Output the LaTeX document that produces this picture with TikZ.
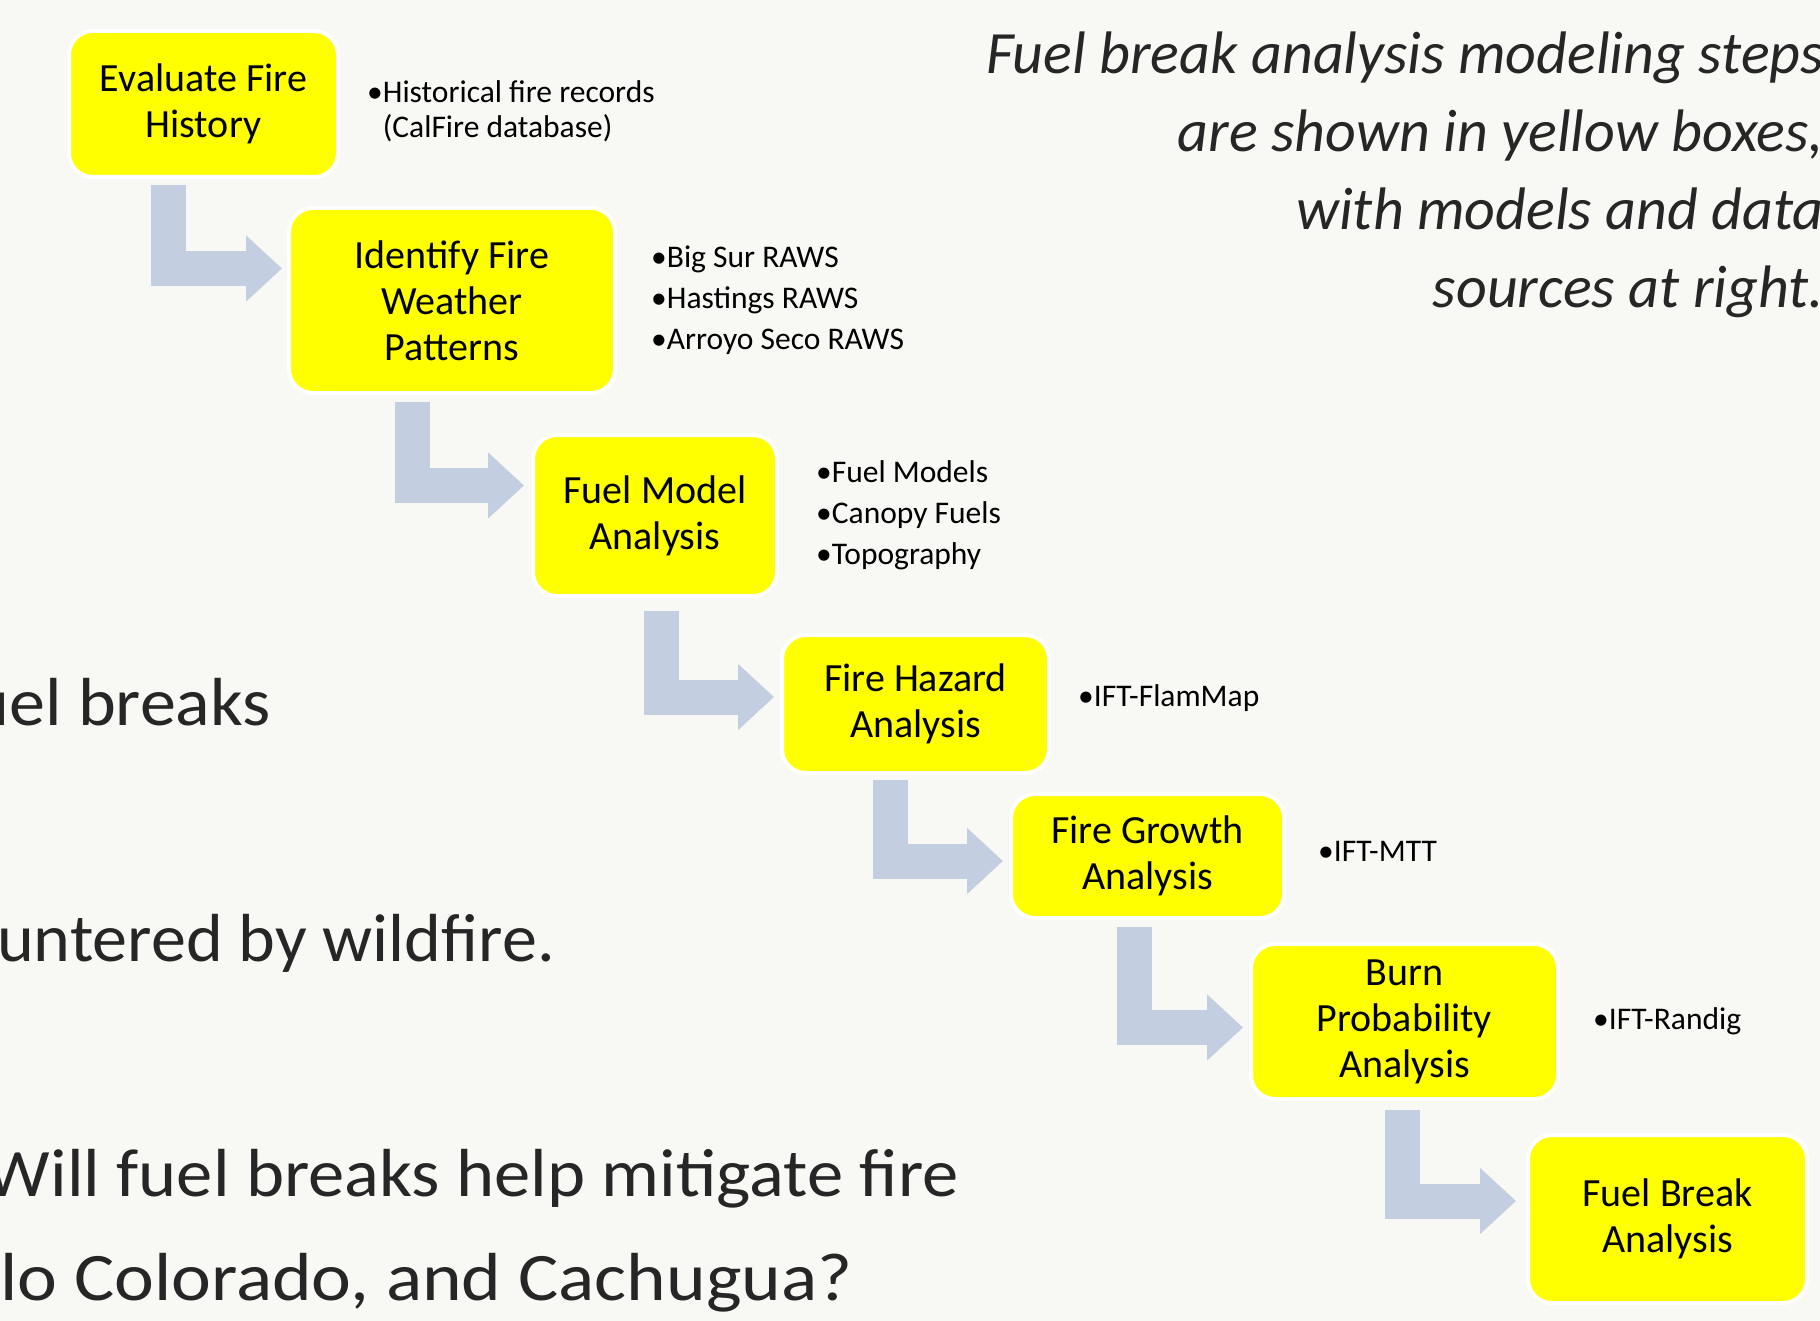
\documentclass[tikz,border=0pt]{standalone}
\usepackage{fontspec}
\setmainfont{Carlito}
\usetikzlibrary{arrows.meta, positioning}
\definecolor{stepyellow}{RGB}{255,255,0}
\definecolor{flowblue}{RGB}{196,206,225}
\definecolor{slidebg}{RGB}{248,248,244}

\begin{document}
\begin{tikzpicture}[
        x=1pt, y=-1pt,
        stepbox/.style={fill=stepyellow, draw=white, line width=4pt,
            rounded corners=24pt, align=center, inner sep=0pt,
            font=\fontsize{40}{46}\selectfont},
        data/.style={align=left, inner sep=0pt,
            font=\fontsize{31.5}{35}\selectfont},
        flow/.style={draw=flowblue, line width=35pt,
            -{Triangle[width=64pt,length=36pt]}},
        slide/.style={inner sep=0pt, text=black!85,
            font=\fontsize{68}{104}\selectfont},
        note/.style={inner sep=0pt, text=black!85, align=right,
            font=\fontsize{60}{78}\selectfont\itshape},
        node distance=32pt]

    \clip (0,0) rectangle (1820,1321);
    \fill [slidebg] (0,0) rectangle (1820,1321);

    % slide text behind the chart
    \node [slide, anchor=base east] (t1) at (271,725)  {\scalebox{1.06}[1]{uel breaks}};
    \node [slide, anchor=base east] (t2) at (555,961)  {\scalebox{1.03}[1]{untered by wildfire.}};
    \node [slide, anchor=base east] (t3) at (959,1196) {\scalebox{1.067}[1]{Will fuel breaks help mitigate fire}};
    \node [slide, anchor=base east] (t4) at (853,1300) {\scalebox{1.11}[1]{lo Colorado, and Cachugua?}};

    \node [note, anchor=north east] (key) at (1824,32)
        {Fuel break analysis modeling steps\\are shown in yellow boxes,\\with models and data\\sources at right.};

    % modeling steps
    \node [stepbox, minimum width=269pt, minimum height=146pt] (1) at (203.5,104)  {Evaluate Fire\\History};
    \node [stepbox, minimum width=326pt, minimum height=185pt] (2) at (452,300.5)  {Identify Fire\\Weather\\Patterns};
    \node [stepbox, minimum width=244pt, minimum height=161pt] (3) at (655,515.5)  {Fuel Model\\Analysis};
    \node [stepbox, minimum width=267pt, minimum height=138pt] (4) at (915.5,704)  {Fire Hazard\\Analysis};
    \node [stepbox, minimum width=273pt, minimum height=124pt] (5) at (1147.5,856) {Fire Growth\\Analysis};
    \node [stepbox, minimum width=307pt, minimum height=155pt] (6) at (1404.5,1021.5) {Burn\\Probability\\Analysis};
    \node [stepbox, minimum width=279pt, minimum height=168pt] (7) at (1667.5,1219) {Fuel Break\\Analysis};

    % models and data
    \node [data] (1s) [right=27pt of 1, yshift=-7pt] {•Historical fire records\\\hphantom{•}(CalFire database)};
    \node [data] (2s) [right=34pt of 2] {•Big Sur RAWS\\[6pt]•Hastings RAWS\\[6pt]•Arroyo Seco RAWS};
    \node [data] (3s) [right=37pt of 3] {•Fuel Models\\[6pt]•Canopy Fuels\\[6pt]•Topography};
    \node [data] (4s) [right=27pt of 4, yshift=6pt] {•IFT-FlamMap};
    \node [data] (5s) [right=32pt of 5, yshift=5pt] {•IFT-MTT};
    \node [data] (6s) [right=33pt of 6] {•IFT-Randig};

    % bent arrows between steps
    \draw [flow] ([xshift=101pt, yshift=-6pt]1.south west)  |- ([xshift=-5pt, yshift=32pt]2.west);
    \draw [flow] ([xshift=125pt, yshift=-7pt]2.south west)  |- ([xshift=-7pt, yshift=30pt]3.west);
    \draw [flow] ([xshift=130pt, yshift=-13pt]3.south west) |- ([xshift=-6pt, yshift=7pt]4.west);
    \draw [flow] ([xshift=110pt, yshift=-5pt]4.south west)  |- ([xshift=-6pt, yshift=-5pt]5.west);
    \draw [flow] ([xshift=125pt, yshift=-7pt]5.south west)  |- ([xshift=-6pt, yshift=-6pt]6.west);
    \draw [flow] ([xshift=153pt, yshift=-9pt]6.south west)  |- ([xshift=-10pt, yshift=18pt]7.west);
\end{tikzpicture}
\end{document}
